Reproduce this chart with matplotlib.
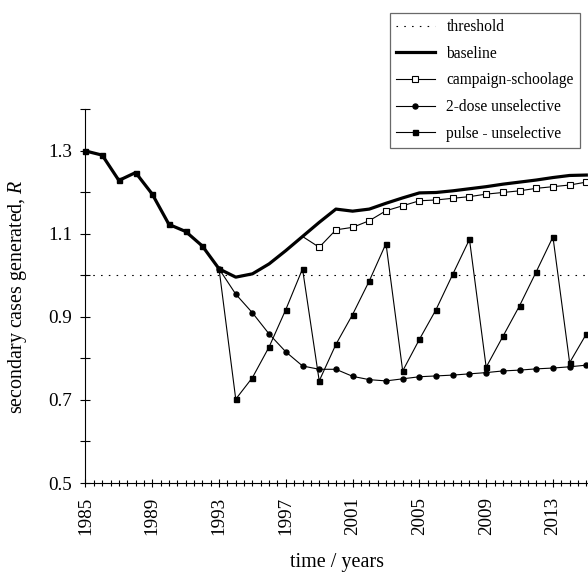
import matplotlib
matplotlib.use("Agg")
import matplotlib.pyplot as plt
from matplotlib.ticker import MultipleLocator, FixedLocator

plt.rcParams['font.family'] = ['Liberation Serif', 'DejaVu Serif']
plt.rcParams['mathtext.fontset'] = 'custom'
plt.rcParams['mathtext.rm'] = 'Liberation Serif'
plt.rcParams['mathtext.it'] = 'Liberation Serif:italic'

# shared history before any intervention (1985-1993)
hist_years = list(range(1985, 1994))
hist_R = [1.300, 1.290, 1.229, 1.248, 1.196, 1.123, 1.106, 1.071, 1.016]

# baseline continues after 1993 (no intervention)
base_years = list(range(1994, 2016))
base_R = [0.996, 1.004, 1.028, 1.060, 1.094, 1.128, 1.160, 1.155, 1.160, 1.174,
          1.187, 1.199, 1.200, 1.204, 1.209, 1.214, 1.220, 1.225, 1.230, 1.236,
          1.241, 1.242]

# campaign among school-age children, 1999 onwards
camp_years = list(range(1999, 2016))
camp_R = [1.068, 1.110, 1.116, 1.132, 1.156, 1.168, 1.180, 1.182, 1.186, 1.190,
          1.196, 1.200, 1.204, 1.210, 1.214, 1.218, 1.225]

# 2-dose unselective, 1994 onwards
dose_years = list(range(1994, 2016))
dose_R = [0.955, 0.910, 0.859, 0.816, 0.782, 0.774, 0.774, 0.757, 0.749, 0.746,
          0.751, 0.756, 0.758, 0.760, 0.763, 0.766, 0.770, 0.772, 0.775, 0.777,
          0.780, 0.784]

# pulse unselective, 1994 onwards
pulse_years = list(range(1994, 2016))
pulse_R = [0.702, 0.754, 0.828, 0.918, 1.016, 0.746, 0.834, 0.906, 0.987, 1.077,
           0.770, 0.846, 0.918, 1.003, 1.087, 0.779, 0.853, 0.927, 1.009, 1.093,
           0.790, 0.859]

threshold = 1.0

x_major = list(range(1985, 2014, 4))
y_major = [0.5, 0.7, 0.9, 1.1, 1.3]
y_minor = [0.6, 0.8, 1.0, 1.2, 1.4]

fig = plt.figure(figsize=(5.88, 5.75), dpi=100)
ax = fig.add_axes([0.1454, 0.16, 0.8546, 0.6496])

lw_thin = 0.8
ms = 3.6

th, = ax.plot([1985, 2015.1], [threshold, threshold], color='black', lw=0.8,
              dashes=(1.4, 5.6), label='threshold')

bx = hist_years + base_years
by = hist_R + base_R
bl, = ax.plot(bx, by, color='black', lw=2.3, solid_joinstyle='round',
              label='baseline')

# campaign line branches off the baseline in 1998
i98 = bx.index(1998)
cx = [bx[i98]] + camp_years
cy = [by[i98]] + camp_R
cl, = ax.plot(cx, cy, color='black', lw=lw_thin, marker='s', ms=4.2,
              mfc='white', mec='black', mew=0.8, markevery=list(range(1, len(cx))),
              label='campaign-schoolage')

dx = [hist_years[-1]] + dose_years
dy = [hist_R[-1]] + dose_R
dl, = ax.plot(dx, dy, color='black', lw=lw_thin, marker='o', ms=ms,
              mfc='black', mec='black', label='2-dose unselective')

px = hist_years + pulse_years
py = hist_R + pulse_R
pl, = ax.plot(px, py, color='black', lw=lw_thin, marker='s', ms=ms,
              mfc='black', mec='black', label='pulse - unselective')

for ln in (th, bl, cl, dl, pl):
    ln.set_clip_on(False)

ax.set_xlim(1985, 2015.1)
ax.set_ylim(0.5, 1.4)

ax.spines['top'].set_visible(False)
ax.spines['right'].set_visible(False)
for s in ('left', 'bottom'):
    ax.spines[s].set_linewidth(0.8)

ax.xaxis.set_major_locator(FixedLocator(x_major))
ax.xaxis.set_minor_locator(MultipleLocator(0.5))
ax.yaxis.set_major_locator(FixedLocator(y_major))
ax.yaxis.set_minor_locator(FixedLocator(y_minor))

ax.tick_params(axis='y', which='both', direction='inout', length=7, width=0.8,
               labelsize=13.8, pad=6)
ax.tick_params(axis='x', which='major', direction='inout', length=6, width=0.8,
               labelsize=13.8, pad=7, labelrotation=90)
ax.tick_params(axis='x', which='minor', direction='inout', length=4.5, width=0.8)
ax.set_yticklabels([f'{v:.1f}' for v in y_major])
ax.set_xticklabels([str(v) for v in x_major])

ax.set_xlabel('time / years', fontsize=14.5, labelpad=12.5)
ax.set_ylabel('secondary cases generated, $R$', fontsize=14.4, labelpad=14)

leg = fig.legend(handles=[th, bl, cl, dl, pl], loc='upper right',
                 bbox_to_anchor=(580 / 588, 1 - 13 / 575), fontsize=11.2,
                 frameon=True, fancybox=False, borderaxespad=0, borderpad=0.4,
                 labelspacing=0.68, handlelength=2.5, handletextpad=0.75)
leg.get_frame().set_edgecolor('#444444')
leg.get_frame().set_linewidth(0.9)

fig.savefig('out.png', dpi=100)
